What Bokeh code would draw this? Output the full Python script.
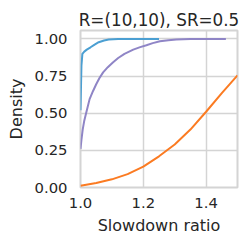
from bokeh.plotting import figure
from bokeh.models import Range1d, FixedTicker
from bokeh.embed import file_html
from bokeh.resources import INLINE

# Data (x = slowdown ratio, y = cumulative density)
blue_x = [1.0, 1.003, 1.006, 1.012, 1.02, 1.032, 1.045, 1.058, 1.075, 1.09, 1.12, 1.25]
blue_y = [0.52, 0.82, 0.90, 0.915, 0.928, 0.944, 0.962, 0.978, 0.99, 0.997, 1.0, 1.0]

purple_x = [1.0, 1.003, 1.007, 1.012, 1.019, 1.029, 1.04, 1.05, 1.06, 1.072, 1.087,
            1.103, 1.12, 1.14, 1.168, 1.19, 1.21, 1.23, 1.253, 1.28, 1.305, 1.35, 1.463]
purple_y = [0.26, 0.32, 0.39, 0.45, 0.51, 0.595, 0.65, 0.695, 0.735, 0.775, 0.81,
            0.842, 0.872, 0.90, 0.928, 0.945, 0.958, 0.972, 0.985, 0.992, 0.996, 1.0, 1.0]

orange_x = [1.0, 1.05, 1.1, 1.15, 1.2, 1.25, 1.3, 1.35, 1.4, 1.45, 1.5]
orange_y = [0.012, 0.03, 0.055, 0.09, 0.14, 0.21, 0.29, 0.39, 0.51, 0.635, 0.755]

x_ticks = [1.0, 1.2, 1.4]
y_ticks = [0.0, 0.25, 0.5, 0.75, 1.0]
x_labels = {1.0: "1.0", 1.2: "1.2", 1.4: "1.4"}
y_labels = {0.0: "0.00", 0.25: "0.25", 0.5: "0.50", 0.75: "0.75", 1.0: "1.00"}

title_text = "R=(10,10), SR=0.5"
x_label = "Slowdown ratio"
y_label = "Density"

FONT = "DejaVu Sans"
TXT = "#262626"
GRID = "#d4d4d4"

p = figure(width=242, height=242, output_backend="svg", toolbar_location=None,
           x_range=Range1d(1.0, 1.5), y_range=Range1d(0.0, 1.057),
           min_border_left=80, min_border_right=5, min_border_top=30,
           min_border_bottom=55, title=title_text)

p.title.text_font = FONT
p.title.text_font_size = "16.8px"
p.title.text_font_style = "normal"
p.title.text_color = TXT
p.title.align = "center"
p.title.offset = 0
p.title.standoff = 2

p.background_fill_color = "white"
p.border_fill_color = "white"
p.outline_line_color = GRID
p.outline_line_width = 2

p.line(blue_x, blue_y, line_color="#4b9fd2", line_width=2)
p.line(purple_x, purple_y, line_color="#8f85c6", line_width=2)
p.line(orange_x, orange_y, line_color="#fb7b22", line_width=2)

for ax, ticks, labels in ((p.xaxis[0], x_ticks, x_labels), (p.yaxis[0], y_ticks, y_labels)):
    ax.ticker = FixedTicker(ticks=ticks)
    ax.major_label_overrides = labels
    ax.axis_line_color = None
    ax.major_tick_line_color = None
    ax.minor_tick_line_color = None
    ax.major_tick_in = 0
    ax.major_tick_out = 0
    ax.major_label_text_font = FONT
    ax.major_label_text_font_size = "14.8px"
    ax.major_label_text_color = TXT
    ax.axis_label_text_font = FONT
    ax.axis_label_text_font_size = "16px"
    ax.axis_label_text_font_style = "normal"
    ax.axis_label_text_color = TXT

p.xaxis.axis_label = x_label
p.yaxis.axis_label = y_label
p.xaxis.major_label_standoff = 10
p.yaxis.major_label_standoff = 13
p.xaxis.axis_label_standoff = 5
p.yaxis.axis_label_standoff = 6

p.xgrid.ticker = FixedTicker(ticks=x_ticks)
p.ygrid.ticker = FixedTicker(ticks=y_ticks)
p.grid.grid_line_color = GRID
p.grid.grid_line_width = 1.5

open("out.html", "w").write(file_html(p, INLINE))
